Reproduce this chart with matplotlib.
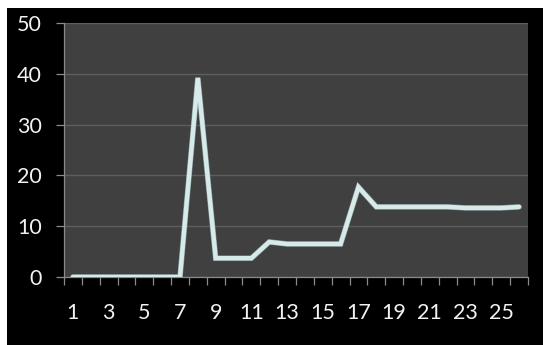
import matplotlib
matplotlib.use("Agg")
import matplotlib.pyplot as plt
import matplotlib.patheffects as pe
from matplotlib.patches import Rectangle
from matplotlib.ticker import FixedLocator

categories = list(range(1, 27))
values = [0, 0, 0, 0, 0, 0, 0, 39.2, 3.7, 3.7, 3.7, 6.9, 6.5, 6.5, 6.5, 6.5,
          17.7, 13.8, 13.8, 13.8, 13.8, 13.8, 13.6, 13.6, 13.6, 13.8]
x_labels = [str(c) if c % 2 == 1 else "" for c in categories]
y_ticks = [0, 10, 20, 30, 40, 50]

plt.rcParams['font.family'] = ['Lato', 'DejaVu Sans']

W, H = 543, 345
fig = plt.figure(figsize=(W / 100, H / 100), dpi=100, facecolor='white')
fig.patches.append(Rectangle((7 / W, 0), 1 - 7 / W, 1 - 8 / H, transform=fig.transFigure,
                             facecolor='black', edgecolor='none', zorder=-10))

ax = fig.add_axes([64 / W, (H - 277) / H, (528 - 64) / W, (277 - 23) / H])
ax.set_zorder(5)
ax.set_facecolor('#404040')

pos = [i for i in range(len(categories))]
ax.plot(pos, values, color='#d6eaea', lw=3.2, solid_joinstyle='miter',
        solid_capstyle='round', zorder=3,
        path_effects=[pe.Stroke(linewidth=4.0, foreground='#a9c4c6', alpha=0.6), pe.Normal()])

ax.set_xlim(-0.5, len(categories) - 0.5)
ax.set_ylim(0, 50)
ax.set_yticks(y_ticks)
ax.yaxis.grid(True, color='#5e5e5e', lw=1.0)
ax.set_axisbelow(True)

ax.set_xticks(pos)
ax.set_xticklabels(x_labels)
ax.xaxis.set_minor_locator(FixedLocator([p - 0.5 for p in pos] + [len(pos) - 0.5]))
ax.tick_params(axis='x', which='major', length=0, pad=19, labelsize=15.5, colors='#f2f2f2')
ax.tick_params(axis='x', which='minor', length=6, width=0.9, color='#8a8a8a', direction='out')
ax.tick_params(axis='y', length=6, width=0.9, color='#8a8a8a', pad=10,
               labelsize=15.5, labelcolor='#f2f2f2')

for s in ['top', 'right']:
    ax.spines[s].set_visible(False)
for s in ['left', 'bottom']:
    ax.spines[s].set_color('#8a8a8a')
    ax.spines[s].set_linewidth(0.9)

fig.savefig('out.png', dpi=100, facecolor=fig.get_facecolor())
